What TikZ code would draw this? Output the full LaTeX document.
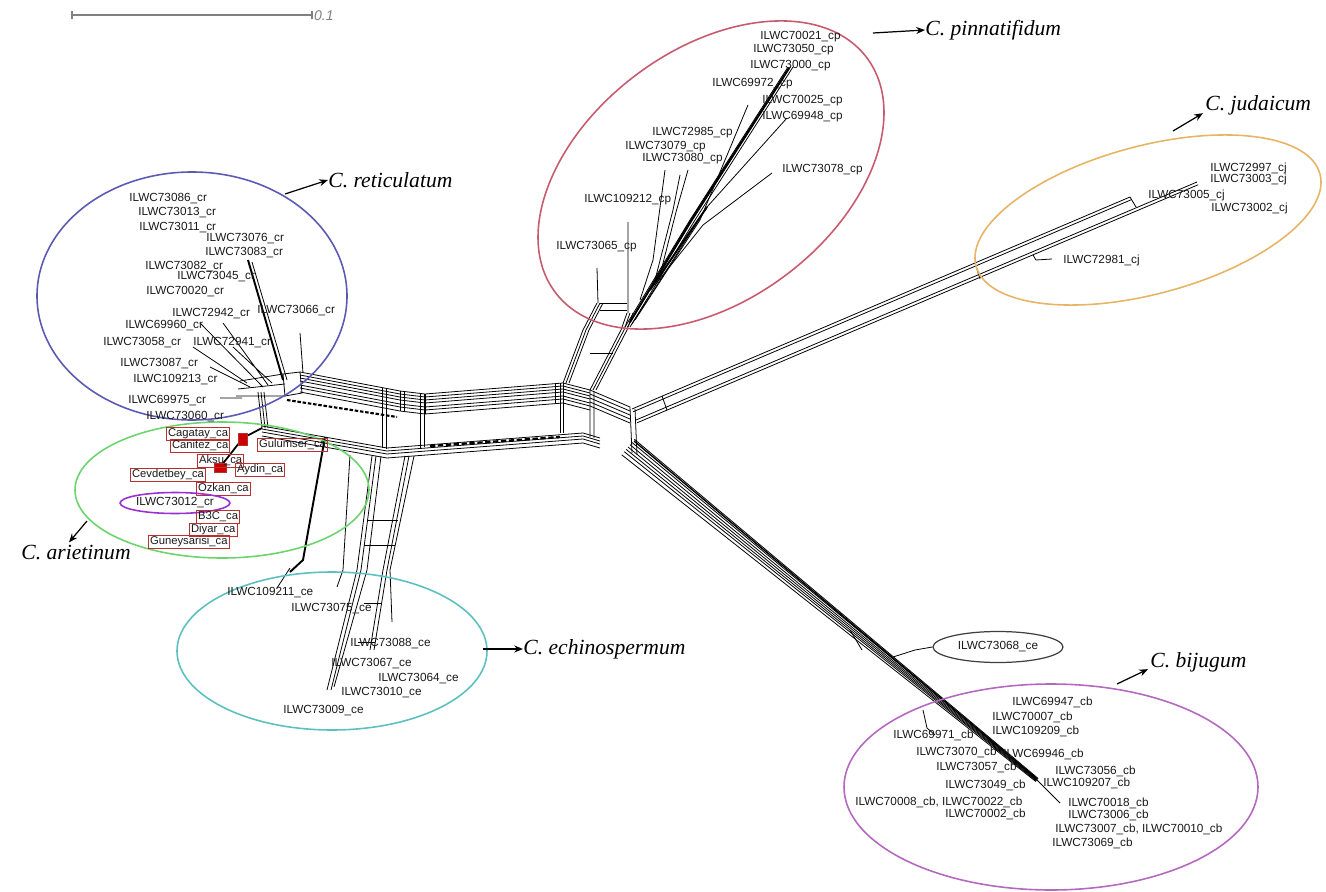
\documentclass[tikz,border=0pt]{standalone}
\usepackage{fontspec}
\setmainfont{Liberation Serif}
\newfontfamily\labelfont{Liberation Sans}
\usetikzlibrary{calc,shapes.geometric,arrows.meta}

\definecolor{retcol}{HTML}{5A5AB4}
\definecolor{aricol}{HTML}{6CD46C}
\definecolor{pincol}{HTML}{C85A6E}
\definecolor{judcol}{HTML}{E6B464}
\definecolor{echcol}{HTML}{5CC0C0}
\definecolor{bijcol}{HTML}{B468C0}
\definecolor{oddcol}{HTML}{9B30D0}
\definecolor{boxcol}{HTML}{B83030}

% parallel split edges: offsets, shift vector, path
\newcommand\strands[4]{\foreach \o in {#1}{\draw[net, shift={({\o*#2},{\o*#3})}] #4;}}

\begin{document}
\begin{tikzpicture}[x=0.02cm, y=-0.02cm,
    net/.style={draw=black, line width=0.45pt},
    netthick/.style={draw=black, line width=1.1pt},
    taxon/.style={font=\labelfont\fontsize{6.7}{7}\selectfont, text=black!90, inner sep=0pt, anchor=west},
    cultivar/.style={taxon, draw=boxcol, line width=0.6pt, inner sep=0.9pt, font=\labelfont\fontsize{6.4}{7}\selectfont},
    species/.style={font=\itshape\fontsize{12.3}{14}\selectfont, inner sep=0pt, anchor=west},
    ring/.style={line width=0.9pt},
    pointer/.style={-{Stealth[length=5pt,width=4pt]}, line width=0.7pt}]
\useasboundingbox (0,0) rectangle (1326,892);

% scale bar
\draw[gray, line width=0.6pt] (72,15) -- (312,15);
\draw[gray, line width=0.6pt] (72,11) -- (72,19) (312,11) -- (312,19);
\node[anchor=west, inner sep=1pt, text=gray, font=\labelfont\itshape\fontsize{8}{9}\selectfont] (scalelbl) at (312,16) {0.1};

% main bands
\strands{0,3,6,9,13,16,20}{0}{1}{(300,372) -- (400,391) -- (425,394) -- (563,383) -- (590,390)}
\strands{0,3,6,10}{0}{1}{(262,426) -- (387,448) -- (583,433) -- (600,438)}
\draw[line width=1.2pt, dash pattern=on 2pt off 1pt] (287,400) -- (397,417);
\draw[line width=1.3pt, dash pattern=on 3pt off 1.5pt] (430,446) -- (560,437);
\draw[net] (400,391) -- (400,411) (404,392) -- (404,412) (425,394) -- (425,414)
  (555,384) -- (555,404) (560,383) -- (560,433) (563,383) -- (563,433);
\draw[net] (382,388) -- (382,448) (386,389) -- (386,449) (420,394) -- (420,448) (424,394) -- (424,447);

% left hub
\strands{0,3,6}{1}{0}{(258,392) -- (262,428)}
\draw[net] (283,374) -- (300,372) -- (302,393) -- (285,396) -- cycle;
\draw[net] (240,381) -- (283,374) (238,389) -- (285,384) (236,396) -- (285,396);

% right hub
\strands{0,4,8,12,16}{0}{1}{(590,390) -- (630,407)}
\draw[net] (590,390) -- (590,437) (594,391) -- (594,438) (630,407) -- (632,453) (635,409) -- (637,455);

% pinnatifidum stem and leaves
\strands{0,3,6}{1}{0}{(563,383) -- (583,330) -- (597,303)}
\strands{0,3,6}{1}{0}{(590,390) -- (621,330) -- (627,313)}
\draw[net] (590,353) -- (613,353) (600,303) -- (627,303) (600,310) -- (627,310);
\draw[net] (598,303) -- (597,268) (628,313) -- (628,222);
\strands{0,2.5,5}{1}{0}{(625,327) -- (690,220) -- (788,67)}
\draw[netthick] (630,322) -- (690,222) -- (789,68);
\draw[net] (632,324) -- (707,207) -- (787,118);
\draw[netthick] (650,290) -- (707,207);
\draw[net] (635,320) -- (700,220) -- (748,105);
\draw[net] (655,285) -- (703,225) -- (772,173);
\draw[net] (640,300) -- (653,260) -- (665,170);
\draw[net] (655,280) -- (673,210) -- (680,175);
\draw[net] (660,275) -- (676,212) -- (688,170);

% judaicum arm
\strands{0,3}{0.387}{0.922}{(632,409) -- (1130,197)}
\strands{0,3}{0.387}{0.922}{(636,420) -- (1197,182)}
\draw[net] (1130,197) -- (1136,207) (975,263) -- (980,279) (662,396) -- (667,410);
\draw[net] (1033,255) -- (1036,260) -- (1052,259);

% bijugum arm
\foreach \o in {-10,-6,-3,0,3,6,10}
  \draw[net] ({628-0.63*\o},{447+0.78*\o}) -- ({1037-0.12*\o},{780+0.15*\o});
\draw[black, line width=0.8pt] (634,441) -- (1036,778);
\draw[net] (850,630) -- (862,650) (990,740) -- (998,752);
\draw[net] (1037,780) -- (1060,803);
\draw[net] (923,710) -- (927,728) -- (935,735);

% echinospermum split
\draw[netthick] (325,437) -- (303,560) -- (290,572);
\draw[net] (290,568) -- (277,588);
\draw[net] (372,456) -- (357,570) -- (327,690) (376,456) -- (361,570) -- (331,690)
  (381,456) -- (367,570) -- (334,687);
\draw[net] (405,456) -- (383,570) -- (370,650) (409,456) -- (387,570) -- (374,650)
  (414,456) -- (390,570) -- (392,622);
\draw[net] (350,455) -- (343,570) -- (337,587);
\draw[net] (364,603) -- (382,603) (358,642) -- (375,642) (368,520) -- (398,520) (364,545) -- (395,545);

% reticulatum leaves
\draw[netthick] (248,260) -- (283,380);
\draw[net] (252,262) -- (287,380) (300,333) -- (303,373) (200,323) -- (263,387)
  (223,323) -- (268,385) (193,347) -- (247,383) (210,367) -- (250,387)
  (220,398) -- (242,398) (233,347) -- (272,383);

% arietinum leaves
\draw[line width=1pt] (262,428) -- (243,438) -- (221,466);
\draw[boxcol, fill=red!80!black] (238,433) rectangle (247,445);
\draw[boxcol, fill=red!80!black] (214,463) rectangle (226,472);

% group rings
\draw[ring, retcol] (192,296) ellipse [x radius=155, y radius=124];
\draw[ring, aricol] (222,490) ellipse [x radius=147, y radius=68];
\draw[ring, pincol, rotate around={37:(711,175)}] (711,175) ellipse [x radius=195, y radius=125];
\draw[ring, judcol, rotate around={15:(1148,220)}] (1148,220) ellipse [x radius=178, y radius=74];
\draw[ring, echcol] (332,651) ellipse [x radius=155, y radius=79];
\draw[ring, bijcol] (1051,787) ellipse [x radius=207, y radius=103];

% C. reticulatum
\node[taxon] (cr86) at (129,199) {ILWC73086\_cr};
\node[taxon] (cr13) at (138,213) {ILWC73013\_cr};
\node[taxon] (cr11) at (139,228) {ILWC73011\_cr};
\node[taxon] (cr76) at (206,239) {ILWC73076\_cr};
\node[taxon] (cr83) at (205,253) {ILWC73083\_cr};
\node[taxon] (cr82) at (145,267) {ILWC73082\_cr};
\node[taxon] (cr45) at (177,277) {ILWC73045\_cr};
\node[taxon] (cr20) at (146,292) {ILWC70020\_cr};
\node[taxon] (cr42) at (172,314) {ILWC72942\_cr};
\node[taxon] (cr66) at (257,311) {ILWC73066\_cr};
\node[taxon] (cr960) at (125,326) {ILWC69960\_cr};
\node[taxon] (cr58) at (103,343) {ILWC73058\_cr};
\node[taxon] (cr41) at (193,343) {ILWC72941\_cr};
\node[taxon] (cr87) at (120,364) {ILWC73087\_cr};
\node[taxon] (cr213) at (133,380) {ILWC109213\_cr};
\node[taxon] (cr75) at (128,401) {ILWC69975\_cr};
\node[taxon] (cr060) at (146,417) {ILWC73060\_cr};

% C. arietinum
\node[cultivar] (caCag) at (166,434) {Cagatay\_ca};
\node[cultivar] (caCan) at (170,446) {Canitez\_ca};
\node[cultivar] (caGul) at (257,445) {Gulumser\_ca};
\node[cultivar] (caAks) at (197,461) {Aksu\_ca};
\node[cultivar] (caAyd) at (235,470) {Aydin\_ca};
\node[cultivar] (caCev) at (130,475) {Cevdetbey\_ca};
\node[cultivar] (caOzk) at (196,489) {Ozkan\_ca};
\node[taxon, anchor=center, draw=oddcol, ellipse, line width=0.9pt, minimum width=2.16cm, minimum height=0.42cm] (cr12) at (175,503) {ILWC73012\_cr};
\node[cultivar] (caB3C) at (196,517) {B3C\_ca};
\node[cultivar] (caDiy) at (189,530) {Diyar\_ca};
\node[cultivar] (caGun) at (148,542) {Guneysarisi\_ca};

% C. pinnatifidum
\node[taxon] (cp21) at (760,37) {ILWC70021\_cp};
\node[taxon] (cp50) at (753,50) {ILWC73050\_cp};
\node[taxon] (cp00) at (750,66) {ILWC73000\_cp};
\node[taxon] (cp72) at (712,84) {ILWC69972\_cp};
\node[taxon] (cp25) at (762,101) {ILWC70025\_cp};
\node[taxon] (cp48) at (762,117) {ILWC69948\_cp};
\node[taxon] (cp85) at (652,133) {ILWC72985\_cp};
\node[taxon] (cp79) at (625,147) {ILWC73079\_cp};
\node[taxon] (cp80) at (642,159) {ILWC73080\_cp};
\node[taxon] (cp78) at (782,170) {ILWC73078\_cp};
\node[taxon] (cp212) at (584,200) {ILWC109212\_cp};
\node[taxon] (cp65) at (556,247) {ILWC73065\_cp};

% C. judaicum
\node[taxon] (cj97) at (1210,168) {ILWC72997\_cj};
\node[taxon] (cj03) at (1210,179) {ILWC73003\_cj};
\node[taxon] (cj05) at (1148,195) {ILWC73005\_cj};
\node[taxon] (cj02) at (1211,208) {ILWC73002\_cj};
\node[taxon] (cj81) at (1063,260) {ILWC72981\_cj};

% C. echinospermum
\node[taxon] (ce211) at (227,593) {ILWC109211\_ce};
\node[taxon] (ce75) at (291,609) {ILWC73075\_ce};
\node[taxon] (ce88) at (350,644) {ILWC73088\_ce};
\node[taxon] (ce67) at (331,664) {ILWC73067\_ce};
\node[taxon] (ce64) at (378,679) {ILWC73064\_ce};
\node[taxon] (ce10) at (341,693) {ILWC73010\_ce};
\node[taxon] (ce09) at (283,711) {ILWC73009\_ce};
\node[taxon, anchor=center, draw=black!75, ellipse, line width=0.7pt, minimum width=2.6cm, minimum height=0.62cm] (ce68) at (998,647) {ILWC73068\_ce};
\draw[net] (893,657) -- (915,650) -- (ce68.west);

% C. bijugum
\node[taxon] (cb47) at (1012,702) {ILWC69947\_cb};
\node[taxon] (cb07) at (992,717) {ILWC70007\_cb};
\node[taxon] (cb209) at (992,731) {ILWC109209\_cb};
\node[taxon] (cb71) at (893,735) {ILWC69971\_cb};
\node[taxon] (cb70) at (916,752) {ILWC73070\_cb};
\node[taxon] (cb46) at (1003,754) {ILWC69946\_cb};
\node[taxon] (cb57) at (936,767) {ILWC73057\_cb};
\node[taxon] (cb56) at (1055,771) {ILWC73056\_cb};
\node[taxon] (cb207) at (1043,783) {ILWC109207\_cb};
\node[taxon] (cb49) at (945,785) {ILWC73049\_cb};
\node[taxon] (cb08) at (855,802) {ILWC70008\_cb, ILWC70022\_cb};
\node[taxon] (cb02) at (945,814) {ILWC70002\_cb};
\node[taxon] (cb18) at (1068,803) {ILWC70018\_cb};
\node[taxon] (cb06) at (1068,815) {ILWC73006\_cb};
\node[taxon] (cb7010) at (1055,829) {ILWC73007\_cb, ILWC70010\_cb};
\node[taxon] (cb69) at (1052,843) {ILWC73069\_cb};

% species names and pointers
\node[species] (retlbl) at (328,180) {C. reticulatum};
\node[species] (arilbl) at (21,552) {C. arietinum};
\node[species] (pinlbl) at (925,30) {C. pinnatifidum};
\node[species] (judlbl) at (1205,105) {C. judaicum};
\node[species] (echlbl) at (523,649) {C. echinospermum};
\node[species] (bijlbl) at (1150,662) {C. bijugum};
\coordinate (rettail) at (285,194);
\coordinate (aritail) at (87,521);
\coordinate (pintail) at (873,33);
\coordinate (judtail) at (1173,131);
\coordinate (echtail) at (483,649);
\coordinate (bijtail) at (1117,684);
\draw[pointer] (rettail) -- (retlbl.west);
\draw[pointer] (aritail) -- ($(arilbl.north west)+(48,-2)$);
\draw[pointer] (pintail) -- (pinlbl.west);
\draw[pointer] (judtail) -- ($(judlbl.south west)+(-2,-2)$);
\draw[pointer] (echtail) -- (echlbl.west);
\draw[pointer] (bijtail) -- ($(bijlbl.south west)+(-2,-3)$);
\end{tikzpicture}
\end{document}
